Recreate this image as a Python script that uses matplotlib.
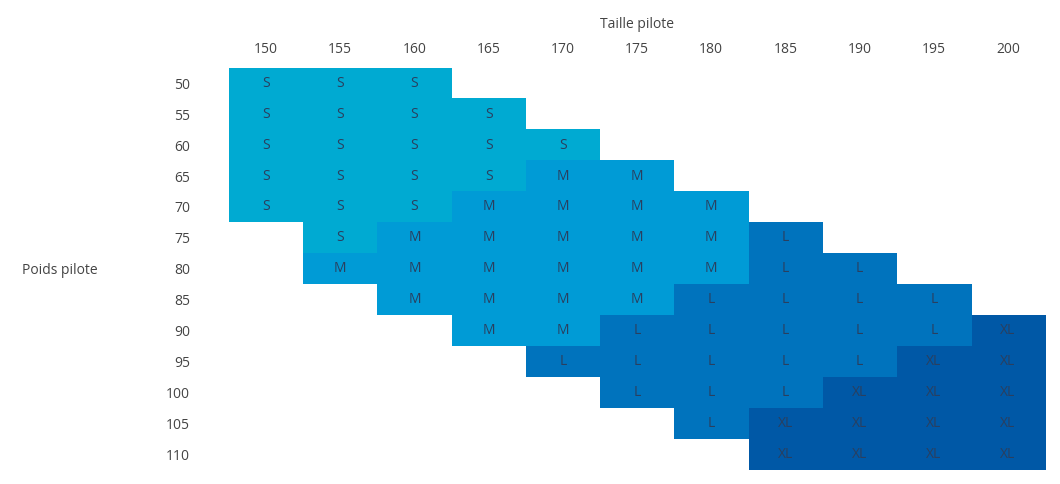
import matplotlib
matplotlib.use("Agg")
import matplotlib.pyplot as plt
from matplotlib.colors import ListedColormap
import numpy as np

heights = [150,155,160,165,170,175,180,185,190,195,200]
weights = [50,55,60,65,70,75,80,85,90,95,100,105,110]
rows = [
 "S S S - - - - - - - -",
 "S S S S - - - - - - -",
 "S S S S S - - - - - -",
 "S S S S M M - - - - -",
 "S S S M M M M - - - -",
 "- S M M M M M L - - -",
 "- M M M M M M L L - -",
 "- - M M M M L L L L -",
 "- - - M M L L L L L XL",
 "- - - - L L L L L XL XL",
 "- - - - - L L L XL XL XL",
 "- - - - - - L XL XL XL XL",
 "- - - - - - - XL XL XL XL",
]
sizes = ["S","M","L","XL"]
colors = ["#00aad2","#009bd6","#0073bd","#0058a6"]

grid = [r.split() for r in rows]
z = np.array([[sizes.index(c) if c != "-" else np.nan for c in r] for r in grid], dtype=float)

fig = plt.figure(figsize=(10.6,4.84), dpi=100)
ax = fig.add_axes([0.216,0.029,0.770,0.831])
ax.imshow(np.ma.masked_invalid(z), cmap=ListedColormap(colors), vmin=-0.5, vmax=3.5, aspect="auto", interpolation="nearest")
for i, r in enumerate(grid):
    for j, c in enumerate(r):
        if c != "-":
            ax.text(j, i, c, ha="center", va="center", fontsize=10, color="#2a3f5f", family="Open Sans")
ax.set_xticks(range(len(heights)))
ax.set_xticklabels(heights)
ax.set_yticks(range(len(weights)))
ax.set_yticklabels(weights)
ax.xaxis.tick_top()
ax.xaxis.set_label_position("top")
ax.tick_params(length=0, labelsize=10, labelcolor="#444444", pad=8)
ax.tick_params(axis="y", pad=28)
for lab in ax.get_xticklabels()+ax.get_yticklabels():
    lab.set_family("Open Sans")
for s in ax.spines.values():
    s.set_visible(False)
ax.set_xlabel("Taille pilote", fontsize=10, color="#444444", family="Open Sans", labelpad=10)
fig.text(0.021, 1-270/484, "Poids pilote", fontsize=10, color="#444444", family="Open Sans", va="center")
fig.savefig("out.png", dpi=100)
